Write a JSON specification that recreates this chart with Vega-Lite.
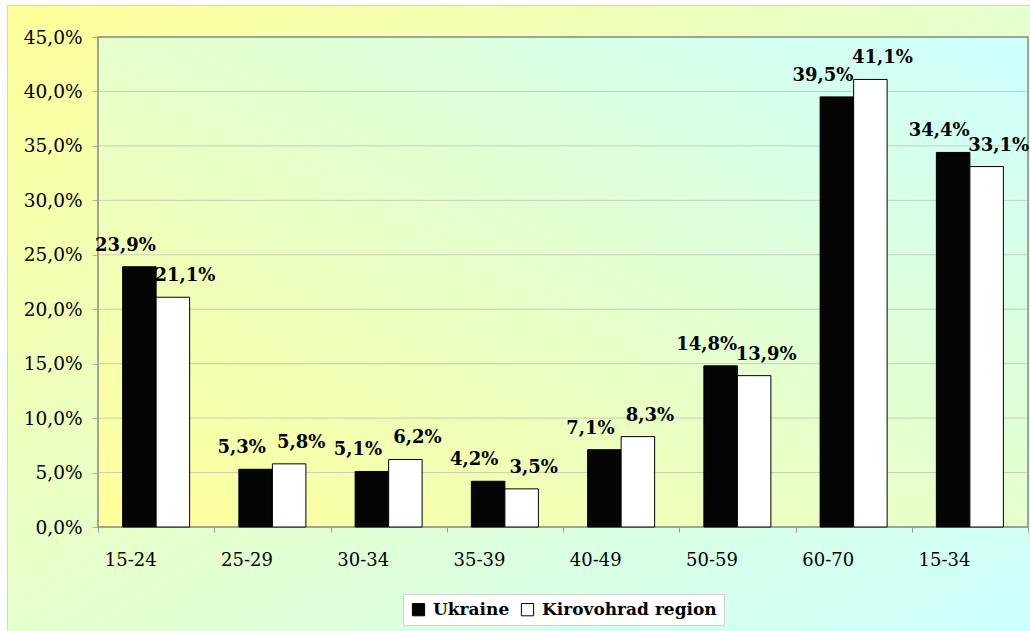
{
  "$schema": "https://vega.github.io/schema/vega-lite/v6.json",
  "autosize": {"type": "none"},
  "padding": {"left": 7, "top": 5, "right": 0, "bottom": 0},
  "width": 1023,
  "height": 626,
  "background": "#ffffff",
  "view": {
    "fill": {
      "gradient": "linear",
      "x1": 0, "y1": 0, "x2": 1, "y2": 1,
      "stops": [
        {"offset": 0, "color": "#ffff99"},
        {"offset": 1, "color": "#ccffff"}
      ]
    },
    "stroke": "#d4d4d4",
    "strokeWidth": 1
  },
  "config": {
    "locale": {
      "number": {"decimal": ",", "thousands": " ", "grouping": [3], "currency": ["", ""]}
    },
    "font": "DejaVu Serif"
  },
  "datasets": {
    "shares": [
      {"age": "15-24", "series": "Ukraine", "value": 0.239},
      {"age": "15-24", "series": "Kirovohrad region", "value": 0.211},
      {"age": "25-29", "series": "Ukraine", "value": 0.053},
      {"age": "25-29", "series": "Kirovohrad region", "value": 0.058},
      {"age": "30-34", "series": "Ukraine", "value": 0.051},
      {"age": "30-34", "series": "Kirovohrad region", "value": 0.062},
      {"age": "35-39", "series": "Ukraine", "value": 0.042},
      {"age": "35-39", "series": "Kirovohrad region", "value": 0.035},
      {"age": "40-49", "series": "Ukraine", "value": 0.071},
      {"age": "40-49", "series": "Kirovohrad region", "value": 0.083},
      {"age": "50-59", "series": "Ukraine", "value": 0.148},
      {"age": "50-59", "series": "Kirovohrad region", "value": 0.139},
      {"age": "60-70", "series": "Ukraine", "value": 0.395},
      {"age": "60-70", "series": "Kirovohrad region", "value": 0.411},
      {"age": "15-34", "series": "Ukraine", "value": 0.344},
      {"age": "15-34", "series": "Kirovohrad region", "value": 0.331}
    ],
    "gridTicks": [
      {"tick": 0.05}, {"tick": 0.10}, {"tick": 0.15}, {"tick": 0.20},
      {"tick": 0.25}, {"tick": 0.30}, {"tick": 0.35}, {"tick": 0.40}
    ],
    "frame": [{"panel": "plot"}]
  },
  "layer": [
    {
      "data": {"name": "frame"},
      "mark": {
        "type": "rect",
        "fill": {
          "gradient": "linear",
          "x1": 0, "y1": 1, "x2": 1, "y2": 0,
          "stops": [
            {"offset": 0, "color": "#ffff99"},
            {"offset": 1, "color": "#ccffff"}
          ]
        },
        "stroke": "#868686",
        "strokeWidth": 1.5
      },
      "encoding": {
        "x": {"datum": "15-24", "bandPosition": 0},
        "x2": {"datum": "15-34", "bandPosition": 1},
        "y": {"datum": 0},
        "y2": {"datum": 0.45}
      }
    },
    {
      "data": {"name": "gridTicks"},
      "mark": {"type": "rule", "stroke": "#b9b9b0", "strokeWidth": 1, "opacity": 0.7},
      "encoding": {
        "x": {"datum": "15-24", "bandPosition": 0},
        "x2": {"datum": "15-34", "bandPosition": 1},
        "y": {"field": "tick", "type": "quantitative"}
      }
    },
    {
      "data": {"name": "shares"},
      "mark": {"type": "bar", "stroke": "#000000", "strokeWidth": 1},
      "encoding": {
        "x": {
          "field": "age",
          "type": "nominal",
          "scale": {
            "domain": ["15-24", "25-29", "30-34", "35-39", "40-49", "50-59", "60-70", "15-34"],
            "paddingInner": 0,
            "paddingOuter": 0.4,
            "align": 0.9785
          },
          "axis": {
            "title": null,
            "orient": "bottom",
            "offset": -104,
            "domain": false,
            "grid": false,
            "tickBand": "extent",
            "tickSize": 5,
            "tickColor": "#9a9a9a",
            "labelAngle": 0,
            "labelPadding": 28,
            "labelFont": "DejaVu Serif",
            "labelFontSize": 18,
            "labelColor": "#000000"
          }
        },
        "xOffset": {
          "field": "series",
          "type": "nominal",
          "scale": {"domain": ["Ukraine", "Kirovohrad region"], "paddingInner": 0, "paddingOuter": 0.735}
        },
        "y": {
          "field": "value",
          "type": "quantitative",
          "scale": {"domain": [-0.09551, 0.479388], "nice": false, "zero": false},
          "axis": {
            "title": null,
            "orient": "left",
            "offset": -91,
            "domain": false,
            "grid": false,
            "values": [0, 0.05, 0.1, 0.15, 0.2, 0.25, 0.3, 0.35, 0.4, 0.45],
            "format": ".1%",
            "tickSize": 6,
            "tickColor": "#b0b0b0",
            "labelPadding": 10,
            "labelFont": "DejaVu Serif",
            "labelFontSize": 18.5,
            "labelColor": "#000000"
          }
        },
        "y2": {"datum": 0},
        "fill": {
          "field": "series",
          "type": "nominal",
          "scale": {"domain": ["Ukraine", "Kirovohrad region"], "range": ["#050505", "#ffffff"]},
          "legend": {
            "title": null,
            "orient": "none",
            "legendX": 396,
            "legendY": 589,
            "direction": "horizontal",
            "fillColor": "#ffffff",
            "strokeColor": "#d0d0d0",
            "padding": 7,
            "symbolType": "square",
            "symbolSize": 150,
            "symbolStrokeColor": "#000000",
            "symbolStrokeWidth": 1,
            "symbolOpacity": 1,
            "labelFont": "DejaVu Serif",
            "labelFontWeight": "bold",
            "labelFontSize": 17,
            "labelLimit": 400,
            "labelColor": "#000000",
            "labelOffset": 6,
            "columnPadding": 9
          }
        }
      }
    },
    {
      "data": {"name": "shares"},
      "transform": [{"filter": "datum.series === 'Ukraine'"}],
      "mark": {
        "type": "text",
        "font": "DejaVu Serif",
        "fontWeight": "bold",
        "fontSize": 18,
        "color": "#000000",
        "baseline": "middle",
        "align": "center",
        "dx": -14,
        "dy": -21
      },
      "encoding": {
        "x": {"field": "age", "type": "nominal"},
        "xOffset": {"field": "series", "type": "nominal"},
        "y": {"field": "value", "type": "quantitative"},
        "text": {"field": "value", "type": "quantitative", "format": ".1%"}
      }
    },
    {
      "data": {"name": "shares"},
      "transform": [{"filter": "datum.series === 'Kirovohrad region'"}],
      "mark": {
        "type": "text",
        "font": "DejaVu Serif",
        "fontWeight": "bold",
        "fontSize": 18,
        "color": "#000000",
        "baseline": "middle",
        "align": "center",
        "dx": 12,
        "dy": -21
      },
      "encoding": {
        "x": {"field": "age", "type": "nominal"},
        "xOffset": {"field": "series", "type": "nominal"},
        "y": {"field": "value", "type": "quantitative"},
        "text": {"field": "value", "type": "quantitative", "format": ".1%"}
      }
    }
  ]
}
